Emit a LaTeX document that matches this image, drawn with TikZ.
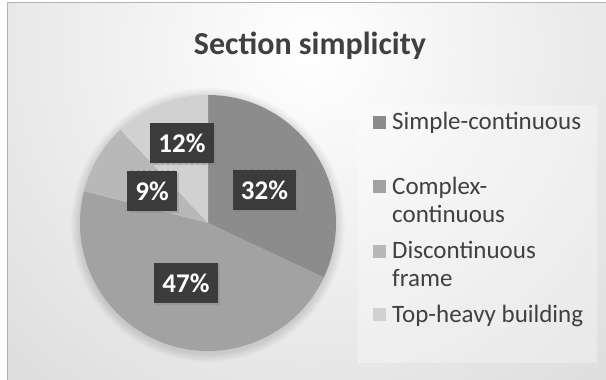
\documentclass[tikz,border=0pt]{standalone}
\usepackage{fontspec}
\setmainfont{Carlito}
\usetikzlibrary{shadows,patterns.meta,positioning}
\definecolor{simplecol}{gray}{0.55}
\definecolor{complexcol}{gray}{0.635}
\definecolor{discocol}{gray}{0.72}
\definecolor{topcol}{gray}{0.82}
\definecolor{boxdark}{gray}{0.23}
\tikzset{
    pct/.style={fill=boxdark, text=white, font=\fontsize{27}{27}\selectfont\bfseries, inner xsep=8pt, minimum height=40pt,
        drop shadow={shadow xshift=2pt, shadow yshift=-2pt, opacity=0.35},
        postaction={pattern={Dots[distance=6pt, radius=0.7pt]}, pattern color=gray!55!black}}, % data label box
    legkey/.style={rectangle, minimum size=13pt, inner sep=0pt}, % legend square
    legtext/.style={anchor=base west, align=left, text=black!75, font=\fontsize{25}{28}\selectfont, inner sep=0pt} % legend entry, base = last line
}

\begin{document}
\begin{tikzpicture}[x=1pt, y=1pt]
    \def\cx{208} \def\cy{157} \def\r{128}
    \useasboundingbox (0,0) rectangle (606,380);
    \fill[white] (0,0) rectangle (606,380);

    % chart area
    \begin{scope}
        \clip (7,0) rectangle (606,377);
        \shade[inner color=white, outer color=gray!45] (310,330) circle (760);
    \end{scope}
    \draw[gray!60, line width=1pt] (7,0) -- (7,377) -- (606,377);

    \node[font=\fontsize{32}{32}\selectfont\bfseries, text=black!75, anchor=base] (title) at (310,325) {Section simplicity};

    % soft shadow round the pie
    \foreach \k in {1,...,6} {\fill[black, opacity=0.02] (\cx,\cy-2) circle (\r+\k*1.5);}
    \foreach \a/\b/\c in {90/-25.2/simplecol, -25.2/-194.4/complexcol, -194.4/-226.8/discocol, -226.8/-270/topcol}
        {\fill[\c] (\cx,\cy) -- ++(\a:\r) arc[start angle=\a, end angle=\b, radius=\r] -- cycle;}

    \node[pct] (p32) at (264.5,190) {32\%};
    \node[pct] (p47) at (186,96.5) {47\%};
    \node[pct] (p9) at (152,189) {9\%};
    \node[pct] (p12) at (182,236.5) {12\%};

    % legend
    \fill[white, opacity=0.3] (358,17) rectangle (597,275);
    \node[legkey, fill=simplecol] (k1) at (379,257.5) {};
    \node[legtext] (t1) at (392,250) {Simple-continuous};
    \node[legkey, fill=complexcol] (k2) at (379,193.5) {};
    \node[legtext] (t2) at (392,157) {Complex-\\continuous};
    \node[legkey, fill=discocol] (k3) at (379,128.5) {};
    \node[legtext] (t3) at (392,93) {Discontinuous\\frame};
    \node[legkey, fill=topcol] (k4) at (379,65) {};
    \node[legtext] (t4) at (392,57) {Top-heavy building};
\end{tikzpicture}
\end{document}
